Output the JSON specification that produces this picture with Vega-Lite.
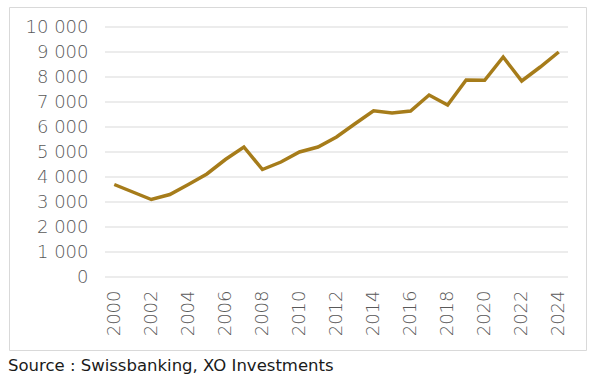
{
  "$schema": "https://vega.github.io/schema/vega-lite/v6.json",
  "autosize": {"type": "none"},
  "padding": {"left": 9, "top": 7, "right": 7, "bottom": 34},
  "width": 577,
  "height": 343,
  "background": "white",
  "config": {
    "view": {"stroke": "#d9d9d9", "strokeWidth": 1},
    "axis": {"labelFont": "DejaVu Sans", "labelFontSize": 18, "labelColor": "#595959", "labelFontWeight": 200}
  },
  "title": {
    "text": "Source : Swissbanking, XO Investments",
    "orient": "bottom",
    "anchor": "start",
    "frame": "group",
    "font": "DejaVu Sans",
    "fontSize": 16.5,
    "fontWeight": "normal",
    "color": "#1a1a1a",
    "offset": 8,
    "dx": -1
  },
  "datasets": {
    "series": [
      {"year": 2000, "value": 3700},
      {"year": 2001, "value": 3400},
      {"year": 2002, "value": 3100},
      {"year": 2003, "value": 3300},
      {"year": 2004, "value": 3700},
      {"year": 2005, "value": 4120},
      {"year": 2006, "value": 4700},
      {"year": 2007, "value": 5200},
      {"year": 2008, "value": 4300},
      {"year": 2009, "value": 4600},
      {"year": 2010, "value": 5000},
      {"year": 2011, "value": 5200},
      {"year": 2012, "value": 5600},
      {"year": 2013, "value": 6130},
      {"year": 2014, "value": 6650},
      {"year": 2015, "value": 6560},
      {"year": 2016, "value": 6640},
      {"year": 2017, "value": 7280},
      {"year": 2018, "value": 6880},
      {"year": 2019, "value": 7880},
      {"year": 2020, "value": 7870},
      {"year": 2021, "value": 8800},
      {"year": 2022, "value": 7840},
      {"year": 2023, "value": 8400},
      {"year": 2024, "value": 9000}
    ],
    "grid": [
      {"g": 0}, {"g": 1000}, {"g": 2000}, {"g": 3000}, {"g": 4000}, {"g": 5000},
      {"g": 6000}, {"g": 7000}, {"g": 8000}, {"g": 9000}, {"g": 10000}
    ]
  },
  "layer": [
    {
      "data": {"name": "grid"},
      "mark": {"type": "rule", "color": "#d9d9d9", "strokeWidth": 1},
      "encoding": {
        "y": {
          "field": "g", "type": "quantitative",
          "scale": {"domain": [0, 10000], "range": [270, 20], "nice": false, "zero": false},
          "axis": {
            "values": [0, 1000, 2000, 3000, 4000, 5000, 6000, 7000, 8000, 9000, 10000],
            "labelExpr": "replace(format(datum.value, ',d'), ',', ' ')",
            "labelPadding": 4, "offset": -83,
            "domain": false, "ticks": false, "grid": false, "title": null, "labelOverlap": false, "labelFlush": false
          }
        },
        "x": {
          "datum": 1999.5, "type": "quantitative",
          "scale": {"domain": [1999.5, 2024.5], "range": [96, 559], "nice": false, "zero": false},
          "axis": {
            "values": [2000, 2002, 2004, 2006, 2008, 2010, 2012, 2014, 2016, 2018, 2020, 2022, 2024],
            "format": "d", "labelAngle": -90, "labelPadding": 4, "offset": -64,
            "domain": false, "ticks": false, "grid": false, "title": null, "labelOverlap": false, "labelFlush": false
          }
        },
        "x2": {"datum": 2024.5}
      }
    },
    {
      "data": {"name": "series"},
      "mark": {"type": "line", "color": "#A67C1A", "strokeWidth": 3.5, "strokeJoin": "miter"},
      "encoding": {
        "x": {
          "field": "year", "type": "quantitative",
          "axis": {
            "values": [2000, 2002, 2004, 2006, 2008, 2010, 2012, 2014, 2016, 2018, 2020, 2022, 2024],
            "format": "d", "labelAngle": -90, "labelPadding": 4, "offset": -64,
            "domain": false, "ticks": false, "grid": false, "title": null, "labelOverlap": false, "labelFlush": false
          }
        },
        "y": {
          "field": "value", "type": "quantitative",
          "axis": {
            "values": [0, 1000, 2000, 3000, 4000, 5000, 6000, 7000, 8000, 9000, 10000],
            "labelExpr": "replace(format(datum.value, ',d'), ',', ' ')",
            "labelPadding": 4, "offset": -83,
            "domain": false, "ticks": false, "grid": false, "title": null, "labelOverlap": false, "labelFlush": false
          }
        }
      }
    }
  ]
}
